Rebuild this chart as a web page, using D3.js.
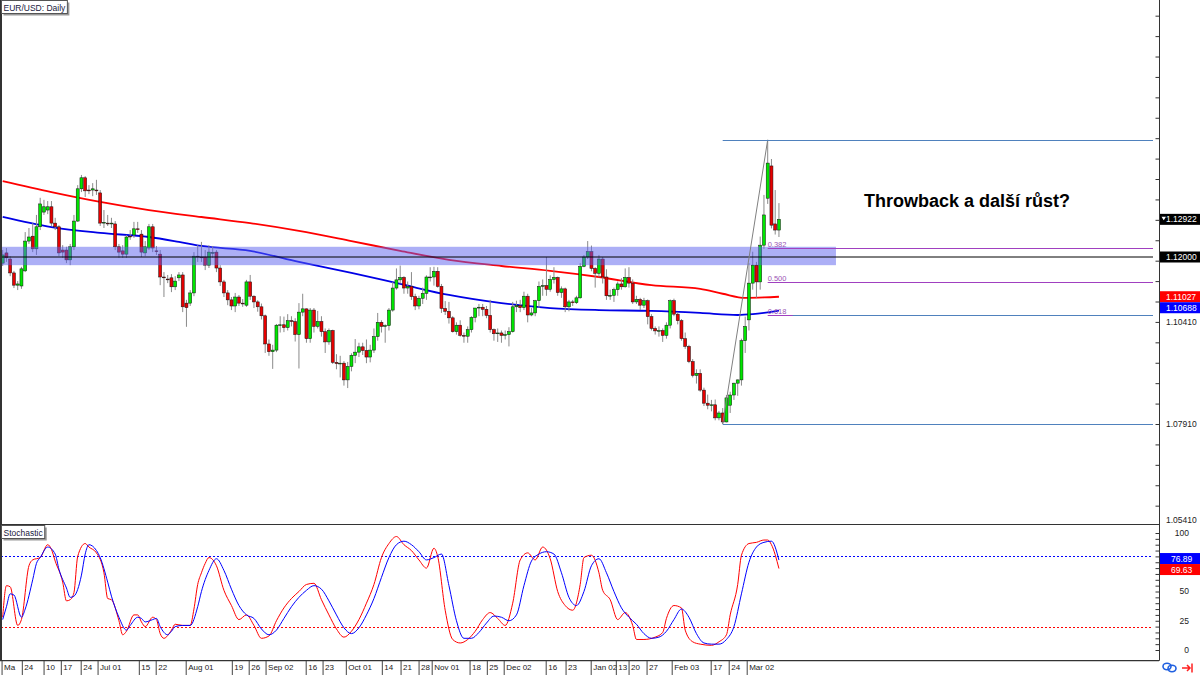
<!DOCTYPE html>
<html><head><meta charset="utf-8">
<script src="https://cdn.jsdelivr.net/npm/d3@7"></script>
<style>
body{margin:0;background:#fff}
svg{display:block}
text{font-family:"Liberation Sans",Arial,sans-serif}
</style>
</head><body>
<svg id="c" width="1200" height="675"></svg>
<script>
// ---------- DATA ----------
const opens = [
1.1185,1.1210,1.1195,1.1161,1.1131,1.1129,1.1166,1.1239,1.1251,1.1220,
1.1274,1.1310,1.1315,1.1323,1.1283,1.1274,1.1217,1.1217,1.1193,1.1225,
1.1288,1.1367,1.1394,1.1364,1.1364,1.1364,1.1357,1.1283,1.1283,1.1281,
1.1281,1.1225,1.1215,1.1207,1.1251,1.1254,1.1269,1.1256,1.1210,1.1222,
1.1274,1.1215,1.1207,1.1151,1.1146,1.1149,1.1127,1.1149,1.1156,1.1087,
1.1087,1.1112,1.1202,1.1200,1.1200,1.1180,1.1210,1.1212,1.1173,1.1139,
1.1112,1.1095,1.1080,1.1102,1.1087,1.1082,1.1139,1.1104,1.1090,1.1078,
1.1056,1.0987,1.0968,1.0972,1.1033,1.1034,1.1027,1.1044,1.1042,1.1010,
1.1065,1.1073,1.1000,1.1070,1.1030,1.1042,1.1017,1.0992,1.1020,1.0942,
1.0939,1.0940,1.0899,1.0932,1.0959,1.0967,1.0980,1.0971,1.0955,1.0972,
1.1005,1.1040,1.1030,1.1032,1.1070,1.1124,1.1144,1.1150,1.1124,1.1128,
1.1103,1.1080,1.1099,1.1111,1.1151,1.1151,1.1165,1.1128,1.1074,1.1067,
1.1051,1.1017,1.1033,1.1008,1.1006,1.1022,1.1052,1.1075,1.1077,1.1072,
1.1057,1.1022,1.1012,1.1014,1.1008,1.1010,1.1017,1.1078,1.1081,1.1076,
1.1104,1.1058,1.1063,1.1093,1.1128,1.1130,1.1121,1.1145,1.1150,1.1113,
1.1122,1.1078,1.1090,1.1088,1.1100,1.1177,1.1200,1.1213,1.1172,1.1160,
1.1195,1.1151,1.1105,1.1106,1.1120,1.1134,1.1127,1.1150,1.1136,1.1090,
1.1096,1.1082,1.1093,1.1054,1.1025,1.1019,1.1020,1.1008,1.1033,1.1093,
1.1060,1.1044,1.1000,1.0981,1.0944,1.0910,1.0915,1.0874,1.0842,1.0837,
1.0838,1.0806,1.0818,1.0796,1.0837,1.0862,1.0891,1.0899,1.0995,1.1046,
1.1136,1.1180,1.1139,1.1229,1.1344,1.1423,1.1281,1.1266];
const highs = [
1.1217,1.1222,1.1202,1.1166,1.1141,1.1176,1.1261,1.1271,1.1283,1.1303,
1.1345,1.1340,1.1337,1.1337,1.1296,1.1278,1.1229,1.1225,1.1232,1.1303,
1.1376,1.1401,1.1398,1.1376,1.1381,1.1389,1.1364,1.1315,1.1303,1.1296,
1.1288,1.1232,1.1229,1.1254,1.1266,1.1286,1.1286,1.1266,1.1239,1.1281,
1.1281,1.1227,1.1217,1.1163,1.1156,1.1158,1.1153,1.1163,1.1163,1.1095,
1.1119,1.1212,1.1229,1.1237,1.1217,1.1229,1.1227,1.1217,1.1180,1.1144,
1.1119,1.1102,1.1112,1.1107,1.1097,1.1144,1.1156,1.1106,1.1094,1.1086,
1.1059,1.0998,1.0985,1.1036,1.1055,1.1054,1.1060,1.1055,1.1050,1.1087,
1.1110,1.1074,1.1075,1.1075,1.1068,1.1055,1.1025,1.1025,1.1022,1.0962,
1.0958,1.0945,1.0943,1.0964,1.0999,1.0990,1.0990,1.0998,1.0985,1.1025,
1.1063,1.1045,1.1035,1.1075,1.1139,1.1172,1.1179,1.1153,1.1140,1.1163,
1.1110,1.1105,1.1125,1.1155,1.1175,1.1176,1.1175,1.1134,1.1092,1.1090,
1.1055,1.1040,1.1045,1.1015,1.1030,1.1055,1.1075,1.1085,1.1085,1.1080,
1.1095,1.1025,1.1025,1.1020,1.1020,1.1028,1.1090,1.1093,1.1095,1.1115,
1.1110,1.1075,1.1095,1.1140,1.1145,1.1200,1.1155,1.1175,1.1152,1.1128,
1.1125,1.1095,1.1095,1.1105,1.1185,1.1205,1.1239,1.1228,1.1175,1.1205,
1.1200,1.1170,1.1120,1.1125,1.1140,1.1148,1.1172,1.1175,1.1145,1.1105,
1.1100,1.1100,1.1096,1.1060,1.1030,1.1030,1.1025,1.1040,1.1096,1.1098,
1.1065,1.1048,1.1015,1.0985,1.0950,1.0925,1.0925,1.0880,1.0863,1.0850,
1.0851,1.0823,1.0830,1.0862,1.0870,1.0892,1.0900,1.1000,1.1054,1.1185,
1.1213,1.1188,1.1250,1.1352,1.1487,1.1440,1.1364,1.1332];
const lows = [
1.1178,1.1188,1.1153,1.1124,1.1119,1.1122,1.1163,1.1232,1.1212,1.1205,
1.1266,1.1303,1.1305,1.1276,1.1266,1.1202,1.1198,1.1185,1.1180,1.1217,
1.1286,1.1359,1.1347,1.1354,1.1349,1.1352,1.1276,1.1271,1.1276,1.1271,
1.1217,1.1198,1.1198,1.1198,1.1242,1.1247,1.1259,1.1200,1.1202,1.1217,
1.1212,1.1205,1.1131,1.1102,1.1136,1.1114,1.1119,1.1141,1.1065,1.1029,
1.1080,1.1104,1.1188,1.1188,1.1168,1.1173,1.1198,1.1163,1.1129,1.1102,
1.1082,1.1070,1.1065,1.1080,1.1078,1.1078,1.1095,1.1075,1.1066,1.1047,
1.0965,1.0958,1.0926,1.0967,1.1015,1.1016,1.1020,1.1030,1.0993,1.0927,
1.1055,1.0990,1.0990,1.1015,1.1025,1.1005,1.0965,1.0985,1.0938,1.0925,
1.0905,1.0885,1.0879,1.0920,1.0940,1.0955,1.0960,1.0940,1.0942,1.0965,
1.0995,1.1015,1.0990,1.1020,1.1066,1.1120,1.1135,1.1110,1.1110,1.1095,
1.1070,1.1072,1.1085,1.1095,1.1140,1.1130,1.1125,1.1063,1.1058,1.1037,
1.1015,1.1010,1.1005,1.0990,1.0990,1.1015,1.1040,1.1055,1.1055,1.1050,
1.1015,1.0995,1.0992,1.0990,1.0998,1.0981,1.1015,1.1065,1.1065,1.1070,
1.1040,1.1055,1.1055,1.1075,1.1105,1.1105,1.1115,1.1135,1.1105,1.1100,
1.1065,1.1067,1.1080,1.1085,1.1098,1.1175,1.1195,1.1165,1.1125,1.1150,
1.1135,1.1095,1.1095,1.1090,1.1105,1.1120,1.1125,1.1125,1.1085,1.1085,
1.1070,1.1075,1.1035,1.1020,1.1010,1.1005,1.0992,1.1000,1.1025,1.1055,
1.1035,1.0995,1.0975,1.0940,1.0905,1.0890,1.0870,1.0835,1.0827,1.0822,
1.0800,1.0800,1.0791,1.0795,1.0818,1.0850,1.0860,1.0885,1.0965,1.1020,
1.1120,1.1100,1.1120,1.1220,1.1330,1.1270,1.1255,1.1249];
const closes = [
1.1205,1.1198,1.1161,1.1131,1.1134,1.1171,1.1239,1.1249,1.1220,1.1274,
1.1330,1.1323,1.1323,1.1283,1.1274,1.1210,1.1212,1.1193,1.1225,1.1288,
1.1367,1.1394,1.1362,1.1362,1.1367,1.1362,1.1283,1.1285,1.1281,1.1283,
1.1225,1.1212,1.1207,1.1249,1.1250,1.1269,1.1268,1.1212,1.1225,1.1274,
1.1222,1.1214,1.1151,1.1149,1.1145,1.1127,1.1141,1.1156,1.1078,1.1076,
1.1112,1.1202,1.1200,1.1198,1.1180,1.1212,1.1211,1.1173,1.1139,1.1112,
1.1095,1.1080,1.1102,1.1087,1.1086,1.1139,1.1104,1.1090,1.1078,1.1056,
1.0987,1.0968,1.0972,1.1033,1.1034,1.1027,1.1044,1.1042,1.1010,1.1065,
1.1073,1.1000,1.1070,1.1030,1.1042,1.1017,1.0992,1.1020,1.0942,1.0939,
1.0940,1.0899,1.0932,1.0959,1.0967,1.0980,1.0971,1.0955,1.0972,1.1005,
1.1040,1.1030,1.1032,1.1070,1.1124,1.1144,1.1150,1.1124,1.1128,1.1103,
1.1080,1.1099,1.1111,1.1151,1.1151,1.1165,1.1128,1.1074,1.1067,1.1051,
1.1017,1.1033,1.1008,1.1006,1.1022,1.1052,1.1075,1.1077,1.1072,1.1057,
1.1022,1.1012,1.1014,1.1008,1.1010,1.1017,1.1078,1.1081,1.1076,1.1104,
1.1058,1.1063,1.1093,1.1128,1.1130,1.1121,1.1145,1.1150,1.1113,1.1122,
1.1078,1.1090,1.1088,1.1100,1.1177,1.1200,1.1213,1.1172,1.1160,1.1195,
1.1151,1.1105,1.1106,1.1120,1.1134,1.1127,1.1150,1.1136,1.1090,1.1096,
1.1082,1.1093,1.1054,1.1025,1.1019,1.1020,1.1008,1.1033,1.1093,1.1060,
1.1044,1.1000,1.0981,1.0944,1.0910,1.0915,1.0874,1.0842,1.0837,1.0838,
1.0806,1.0818,1.0796,1.0855,1.0862,1.0891,1.0899,1.0995,1.1030,1.1136,
1.1180,1.1139,1.1229,1.1303,1.1430,1.1278,1.1266,1.12922];

// moving averages: [bar, price]
const maSlow = [[0,1.1386],[13,1.1359],[26,1.1335],[39,1.1315],[53,1.1298],[66,1.1283],[79,1.1264],[93,1.1239],[106,1.1215],[119,1.1193],[133,1.1178],[146,1.1166],[159,1.1151],[173,1.1131],[186,1.1122],[192,1.1110],[198,1.1100],[203,1.1101],[207,1.11027]];
const maFast = [[0,1.1298],[13,1.1273],[26,1.1259],[39,1.1249],[47,1.1237],[53,1.1227],[66,1.1215],[79,1.1188],[93,1.1161],[106,1.1134],[119,1.1107],[133,1.1087],[146,1.1075],[159,1.1070],[173,1.1068],[186,1.1063],[196,1.1058],[200,1.1060],[207,1.10688]];

// stochastic %K (red) and %D (blue): [bar, value]
const stochK = [[0,28],[1,55],[2,54],[4,21],[5,26],[7,72],[8,77],[10,79],[12,90],[13,86],[14,76],[16,58],[17,42],[18,43],[19,49],[20,80],[22,91],[23,88],[25,83],[27,66],[28,44],[29,43],[31,25],[32,13],[33,16],[35,30],[36,30],[37,24],[38,20],[40,28],[41,26],[42,14],[43,10],[45,17],[46,22],[48,21],[50,21],[51,35],[52,56],[53,66],[54,74],[55,79],[57,72],[59,51],[61,38],[63,26],[65,30],[67,21],[69,10],[71,12],[73,25],[75,36],[77,44],[79,50],[81,56],[83,57],[85,43],[87,30],[89,18],[91,11],[93,16],[95,26],[97,40],[99,56],[101,79],[103,91],[105,97],[107,90],[109,85],[111,77],[113,70],[115,87],[116,80],[118,34],[120,9],[122,6],[124,9],[126,16],[128,26],[130,32],[132,27],[134,21],[136,40],[138,77],[140,83],[142,77],[144,88],[146,78],[148,50],[150,38],[152,34],[154,56],[155,79],[157,81],[159,66],[160,51],[162,43],[164,26],[166,32],[168,21],[169,9],[171,9],[174,11],[176,15],[177,27],[179,38],[181,36],[182,17],[184,7],[186,5],[189,4],[191,7],[193,13],[194,30],[196,56],[197,81],[199,91],[201,92],[203,94],[204,94],[205,90],[207,69.63]];
const stochD = [[0,26],[1,37],[2,48],[3,47],[5,28],[6,35],[8,60],[9,74],[10,79],[12,88],[14,82],[15,69],[17,53],[18,45],[19,46],[21,64],[22,82],[23,90],[25,85],[26,79],[28,58],[29,46],[31,28],[33,17],[34,21],[36,28],[37,27],[38,24],[40,26],[41,27],[42,20],[44,13],[45,16],[46,20],[48,21],[50,21],[52,37],[53,50],[55,68],[57,78],[59,68],[61,52],[63,38],[65,30],[67,27],[69,18],[71,13],[73,17],[75,27],[77,37],[79,45],[81,51],[83,55],[85,52],[87,42],[89,30],[91,19],[93,14],[95,19],[97,30],[99,44],[101,62],[103,79],[105,90],[107,93],[109,90],[111,84],[113,77],[115,79],[117,82],[119,55],[121,25],[123,10],[125,10],[127,15],[129,23],[131,29],[133,28],[135,25],[137,30],[139,55],[141,76],[143,82],[145,84],[147,82],[149,66],[151,45],[153,38],[155,50],[157,72],[159,78],[161,66],[163,50],[165,36],[167,28],[169,22],[171,14],[173,10],[175,11],[177,16],[179,26],[181,35],[183,28],[185,14],[187,6],[189,5],[191,5],[193,9],[195,20],[197,48],[199,75],[201,88],[203,92],[205,93],[207,76.89]];

// time axis labels: [bar position, text]
const timeTicks = [[-0.3,"Ma"],[5.1,"24"],[10.9,"10"],[15.5,"17"],[20.8,"24"],[25.3,"Jul 01"],[36.3,"15"],[40.8,"22"],[48.8,"Aug 01"],[61.1,"19"],[65.6,"26"],[70.1,"Sep 02"],[80.8,"16"],[85.3,"23"],[91.5,"Oct 01"],[101.1,"14"],[106.1,"21"],[110.9,"28"],[114.4,"Nov 01"],[124.5,"18"],[129.1,"25"],[133.6,"Dec 02"],[144.8,"16"],[150.1,"23"],[156.8,"Jan 02"],[163.5,"13"],[166.9,"20"],[171.7,"27"],[178.4,"Feb 03"],[188.8,"17"],[193.6,"24"],[198.4,"Mar 02"]];
const priceTickLabels = [1.10410, 1.07910, 1.05410];
const stochTickLabels = [100, 50, 25, 0];
const stochLevels = [80, 20];
const fibLevels = [0.382, 0.500, 0.618];
const keyLevel = 1.12000;
const zone = {top: 1.1225, bottom: 1.1180, endBar: 222.2};
const lastPrice = 1.12922;
const title = "EUR/USD: Daily";
const note = "Throwback a další růst?";

// ---------- DRAW ----------
const svg = d3.select("#c");
const n = closes.length;
const x = d3.scaleLinear().domain([0, 100]).range([2.7, 377.7]);
const yP = d3.scaleLinear().domain([1.12, 1.0791]).range([257, 424]);
const yS = d3.scaleLinear().domain([0, 100]).range([650, 533]);
const RIGHT = 1159, LINE_END = 1153, MAIN_BOT = 524, BOT = 660;

function squeeze(sel, f){
  sel.each(function(){
    const L = this.getComputedTextLength();
    d3.select(this).attr("textLength", L*f).attr("lengthAdjust","spacingAndGlyphs");
  });
  return sel;
}

svg.append("rect").attr("width",1200).attr("height",675).attr("fill","#fff");

const defs = svg.append("defs");
defs.append("clipPath").attr("id","cm").append("rect").attr("x",1).attr("y",0).attr("width",LINE_END-1).attr("height",MAIN_BOT);
defs.append("clipPath").attr("id","cs").append("rect").attr("x",1).attr("y",MAIN_BOT+1).attr("width",LINE_END-1).attr("height",BOT-MAIN_BOT-1);

const gm = svg.append("g").attr("clip-path","url(#cm)");
const gs = svg.append("g").attr("clip-path","url(#cs)");

// moving averages
const maLine = d3.line().x(d=>x(d[0])).y(d=>yP(d[1])).curve(d3.curveMonotoneX);
gm.append("path").attr("d",maLine(maSlow)).attr("fill","none").attr("stroke","#ff0000").attr("stroke-width",1.8);
gm.append("path").attr("d",maLine(maFast)).attr("fill","none").attr("stroke","#0000e6").attr("stroke-width",1.8);

// candles
const bars = d3.range(n).map(i=>({i,o:opens[i],h:highs[i],l:lows[i],c:closes[i]}));
const cg = gm.append("g");
cg.selectAll("line.w").data(bars).join("line")
  .attr("x1",d=>x(d.i)).attr("x2",d=>x(d.i))
  .attr("y1",d=>yP(d.h)).attr("y2",d=>yP(d.l))
  .attr("stroke","#8a8a8a").attr("stroke-width",1);
cg.selectAll("rect.b").data(bars).join("rect")
  .attr("x",d=>x(d.i)-1.5).attr("width",3)
  .attr("y",d=>Math.min(yP(d.o),yP(d.c)))
  .attr("height",d=>Math.max(0.8,Math.abs(yP(d.o)-yP(d.c))))
  .attr("fill",d=>d.c>=d.o?"#00e600":"#e60000")
  .attr("stroke","#111").attr("stroke-width",0.5);

// zone
gm.append("rect").attr("x",0).attr("width",x(zone.endBar))
  .attr("y",yP(zone.top)).attr("height",yP(zone.bottom)-yP(zone.top))
  .attr("fill","#5a5fee").attr("opacity",0.5);

// key level line
gm.append("line").attr("x1",1).attr("x2",LINE_END).attr("y1",yP(keyLevel)).attr("y2",yP(keyLevel))
  .attr("stroke","#000").attr("stroke-width",1);

// fibonacci
const hiI = d3.maxIndex(highs), loI = d3.minIndex(lows);
const hi = highs[hiI], lo = lows[loI];
gm.append("line").attr("x1",x(loI)).attr("y1",yP(lo)).attr("x2",x(hiI)).attr("y2",yP(hi))
  .attr("stroke","#808080").attr("stroke-width",1);
[hi, lo].forEach(p=>{
  gm.append("line").attr("x1",x(loI)).attr("x2",LINE_END).attr("y1",Math.round(yP(p))+0.5).attr("y2",Math.round(yP(p))+0.5)
    .attr("stroke","#4f81bd").attr("stroke-width",1);
});
fibLevels.forEach(f=>{
  const p = hi - (hi-lo)*f, yy = Math.round(yP(p))+0.5;
  gm.append("line").attr("x1",x(hiI)).attr("x2",LINE_END).attr("y1",yy).attr("y2",yy)
    .attr("stroke","#a040c0").attr("stroke-width",1);
  if (f===0.618) gm.append("line").attr("x1",x(hiI)+25).attr("x2",LINE_END).attr("y1",yy).attr("y2",yy)
    .attr("stroke","#4f81bd").attr("stroke-width",1);
  gm.append("text").attr("x",x(hiI)).attr("y",yy-1.5).text(f.toFixed(3))
    .attr("font-size",7.5).attr("fill","#9a55b5");
});

// note
svg.append("text").attr("x",864).attr("y",207).text(note)
  .attr("font-size",18).attr("font-weight","bold").attr("fill","#000");

// stochastic
gs.selectAll("line.lv").data(stochLevels).join("line")
  .attr("x1",1).attr("x2",LINE_END).attr("y1",d=>Math.round(yS(d))+0.5).attr("y2",d=>Math.round(yS(d))+0.5)
  .attr("stroke",d=>d>50?"#0000ff":"#ff0000").attr("stroke-width",1).attr("stroke-dasharray","2,2");
const sLine = d3.line().x(d=>x(d[0])).y(d=>yS(d[1])).curve(d3.curveMonotoneX);
gs.append("path").attr("d",sLine(stochK)).attr("fill","none").attr("stroke","#ff0000").attr("stroke-width",1);
gs.append("path").attr("d",sLine(stochD)).attr("fill","none").attr("stroke","#0000ff").attr("stroke-width",1);

// frames
const frame = svg.append("g").attr("stroke","#333").attr("stroke-width",1);
frame.append("line").attr("x1",1).attr("x2",1).attr("y1",0).attr("y2",BOT).attr("stroke-width",2);
frame.append("line").attr("x1",RIGHT+0.5).attr("x2",RIGHT+0.5).attr("y1",0).attr("y2",BOT+0.5);
frame.append("line").attr("x1",0).attr("x2",RIGHT+0.5).attr("y1",BOT+0.5).attr("y2",BOT+0.5);
frame.append("line").attr("x1",0).attr("x2",RIGHT+0.5).attr("y1",MAIN_BOT+0.5).attr("y2",MAIN_BOT+0.5);
svg.append("line").attr("x1",0).attr("x2",RIGHT).attr("y1",BOT+1.5).attr("y2",BOT+1.5).attr("stroke","#ccc");

// price axis ticks
const pTicks = d3.range(1.05410, 1.19, 0.005).filter(p=>yP(p)>2 && yP(p)<MAIN_BOT);
const pAxis = svg.append("g").attr("transform",`translate(${RIGHT+0.5},0)`)
  .call(d3.axisLeft(yP).tickValues(pTicks).tickSize(4).tickFormat(""));
pAxis.select(".domain").remove();
pAxis.selectAll("line").attr("stroke","#333");
const sAxis = svg.append("g").attr("transform",`translate(${RIGHT+0.5},0)`)
  .call(d3.axisLeft(yS).tickValues(d3.range(0,101,5)).tickSize(4).tickFormat(""));
sAxis.select(".domain").remove();
sAxis.selectAll("line").attr("stroke","#333");

// price labels
const LX = 1166, FS = 8.5;
priceTickLabels.forEach(p=>{
  svg.append("text").attr("x",LX).attr("y",Math.min(yP(p),520)).attr("dy","0.35em")
    .text(p.toFixed(5)).attr("font-size",FS).attr("fill","#222");
});
function tag(yc, txt, bg, withArrow){
  svg.append("rect").attr("x",RIGHT+1).attr("y",yc-5.5).attr("width",1200-RIGHT-1).attr("height",11).attr("fill",bg);
  if (withArrow) svg.append("path").attr("d",`M${RIGHT+2.5},${yc-2.5} h4.5 l-2.25,3.5 z`).attr("fill","#fff");
  svg.append("text").attr("x",LX).attr("y",yc).attr("dy","0.35em").text(txt)
    .attr("font-size",FS).attr("fill","#fff");
}
tag(yP(lastPrice), lastPrice.toFixed(5), "#000", true);
tag(yP(keyLevel), keyLevel.toFixed(5), "#000", false);
const slowLast = maSlow[maSlow.length-1][1], fastLast = maFast[maFast.length-1][1];
tag(yP(slowLast), slowLast.toFixed(5), "#ff0000", false);
tag(yP(slowLast)+11, fastLast.toFixed(5), "#0000ff", false);

// stochastic labels
stochTickLabels.forEach(v=>{
  svg.append("text").attr("x",1189).attr("y",yS(v)).attr("dy","0.35em").attr("text-anchor","end")
    .text(v).attr("font-size",FS).attr("fill","#222");
});
const dLast = stochD[stochD.length-1][1], kLast = stochK[stochK.length-1][1];
function stag(yc, txt, bg){
  svg.append("rect").attr("x",RIGHT+1).attr("y",yc-5.5).attr("width",1200-RIGHT-1).attr("height",11).attr("fill",bg);
  svg.append("text").attr("x",1171).attr("y",yc).attr("dy","0.35em").text(txt)
    .attr("font-size",FS).attr("fill","#fff");
}
stag(yS(dLast)-1.5, dLast.toFixed(2), "#0000ff");
stag(yS(dLast)+9.5, kLast.toFixed(2), "#ff0000");

// time axis
const tAxis = svg.append("g").attr("transform",`translate(0,${BOT+1})`)
  .call(d3.axisBottom(x).tickValues(timeTicks.map(d=>d[0])).tickSize(14).tickFormat((d,i)=>timeTicks[i][1]));
tAxis.select(".domain").remove();
tAxis.selectAll("line").attr("stroke","#444");
tAxis.selectAll("text").attr("text-anchor","start").attr("x",2).attr("y",3).attr("dy","0.75em")
  .attr("font-size",8).attr("fill","#222").attr("font-family","Liberation Sans, Arial, sans-serif");

// title boxes
function labelBox(x0, y0, txt){
  const g = svg.append("g");
  const t = g.append("text").attr("x",x0+2).attr("y",y0+10).text(txt).attr("font-size",8.5).attr("fill","#1a1a40");
  const w = t.node().getComputedTextLength()+4;
  g.insert("rect","text").attr("x",x0+2).attr("y",y0+2).attr("width",w).attr("height",13).attr("fill","#999");
  g.insert("rect","text").attr("x",x0).attr("y",y0).attr("width",w).attr("height",13).attr("fill","#fff").attr("stroke","#555").attr("stroke-width",1);
}
labelBox(1.5, 0.5, title);
labelBox(1.5, MAIN_BOT+1.5, "Stochastic");

// corner icons
const ic = svg.append("g");
ic.append("ellipse").attr("cx",1167).attr("cy",666.5).attr("rx",4).attr("ry",3.2).attr("fill","none").attr("stroke","#2060e0").attr("stroke-width",1.6);
ic.append("ellipse").attr("cx",1172).attr("cy",668.5).attr("rx",4).attr("ry",3.2).attr("fill","none").attr("stroke","#2060e0").attr("stroke-width",1.6);
ic.append("path").attr("d","M1182,668 h8 M1187,665 l3,3 l-3,3 M1192,663.5 v9").attr("fill","none").attr("stroke","#ff2020").attr("stroke-width",1.5);
</script>
</body></html>
